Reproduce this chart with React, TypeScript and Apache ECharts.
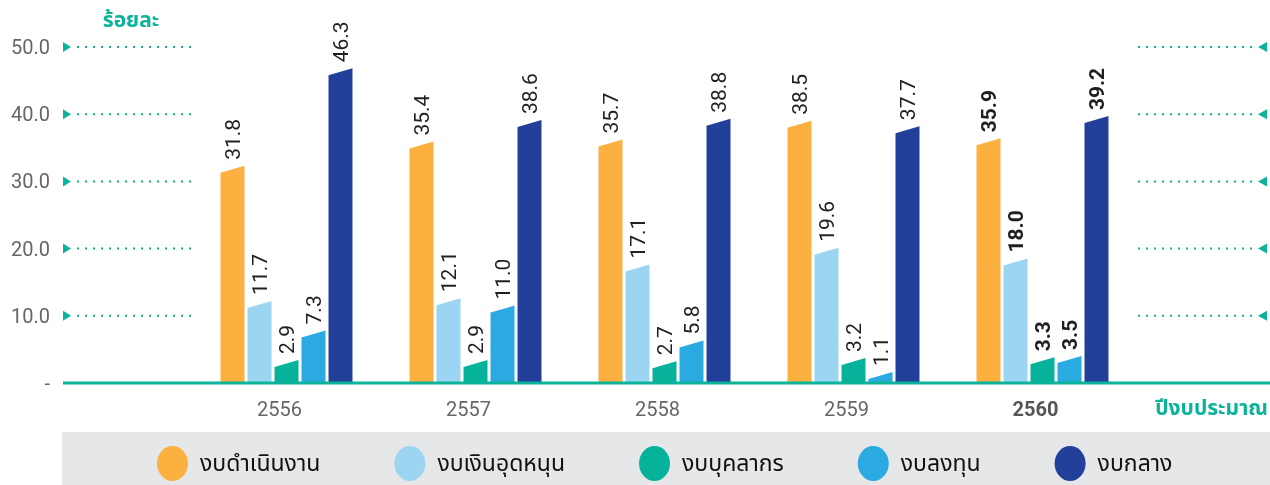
import React, { useEffect, useRef } from 'react';
import * as echarts from 'echarts';

const years = ['2556', '2557', '2558', '2559', '2560'];
const seriesNames = ['งบดำเนินงาน', 'งบเงินอุดหนุน', 'งบบุคลากร', 'งบลงทุน', 'งบกลาง'];
const operating = [31.8, 35.4, 35.7, 38.5, 35.9];
const subsidy = [11.7, 12.1, 17.1, 19.6, 18.0];
const personnel = [2.9, 2.9, 2.7, 3.2, 3.3];
const investment = [7.3, 11.0, 5.8, 1.1, 3.5];
const central = [46.3, 38.6, 38.8, 37.7, 39.2];
const yTicks = [10, 20, 30, 40, 50];
const colors = ['#fbb040', '#9bd5f2', '#07b29b', '#2baae2', '#22409a'];
const yName = 'ร้อยละ';
const xName = 'ปีงบประมาณ';

const TEAL = '#0bb39b';
const NUM_FONT = 'Roboto, "DejaVu Sans", sans-serif';
const THAI_FONT = '"Noto Sans Thai", "Noto Sans", "DejaVu Sans", sans-serif';

export default function App() {
  const ref = useRef<HTMLDivElement>(null);
  useEffect(() => {
    if (!ref.current) return;
    const chart = echarts.init(ref.current, null, { renderer: 'svg' });
    const allValues = [operating, subsidy, personnel, investment, central];
    const BAR_W = 24;
    const PITCH = 27;
    const SLANT = 3.5;

    const barSeries = allValues.map((vals, s) => ({
      type: 'custom',
      name: seriesNames[s],
      itemStyle: { color: colors[s] },
      data: vals.map((v, i) => [i, v]),
      encode: { x: 0, y: 1 },
      z: 2,
      renderItem: (params: any, api: any) => {
        const ci = api.value(0);
        const v = api.value(1);
        const top = api.coord([ci, v]);
        const base = api.coord([ci, 0]);
        const cx = top[0] + (s - 2) * PITCH;
        const l = cx - BAR_W / 2;
        const r = cx + BAR_W / 2;
        return {
          type: 'group',
          children: [
            {
              type: 'polygon',
              shape: {
                points: [
                  [l, base[1]],
                  [r, base[1]],
                  [r, top[1] - SLANT],
                  [l, top[1] + SLANT],
                ],
              },
              style: { fill: colors[s] },
            },
            {
              type: 'text',
              x: cx,
              y: top[1] - SLANT - 6,
              rotation: Math.PI / 2,
              style: {
                text: v.toFixed(1),
                fill: '#231f20',
                fontSize: 21,
                fontFamily: NUM_FONT,
                fontWeight: ci === 4 ? 'bold' : 'normal',
                align: 'left',
                verticalAlign: 'middle',
              },
            },
          ],
        };
      },
    }));

    const option: any = {
      animation: false,
      grid: { left: 192, right: 133, top: 47, bottom: 102 },
      legend: {
        data: seriesNames,
        left: 152,
        top: 441,
        itemWidth: 31,
        itemHeight: 35,
        itemGap: 74,
        icon: 'path://M15.5,0 A15.5,17.5 0 1,1 15.5,35 A15.5,17.5 0 1,1 15.5,0 Z',
        textStyle: { fontSize: 23, color: '#111', fontFamily: THAI_FONT, padding: [0, 0, 0, 7] },
        selectedMode: false,
      },
      xAxis: {
        type: 'category',
        data: years,
        axisLine: { show: false },
        axisTick: { show: false },
        axisLabel: {
          color: '#666',
          fontSize: 20,
          fontFamily: NUM_FONT,
          margin: 16,
          padding: [0, 14, 0, 0],
          formatter: (v: string) => (v === '2560' ? `{b|${v}}` : v),
          rich: { b: { fontWeight: 'bold', color: '#555', fontSize: 20, fontFamily: NUM_FONT } },
        },
      },
      yAxis: {
        type: 'value',
        min: 0,
        max: 50,
        interval: 10,
        axisLine: { show: false },
        axisTick: { show: false },
        splitLine: { show: false },
        axisLabel: {
          color: '#666',
          fontSize: 20,
          fontFamily: NUM_FONT,
          margin: 142,
          formatter: (v: number) => (v === 0 ? '-' : v.toFixed(1)),
        },
      },
      graphic: [
        { type: 'rect', shape: { x: 62, y: 432, width: 1208, height: 53 }, style: { fill: '#e6e7e8' }, z: -1 },
        {
          type: 'text',
          x: 131,
          y: 20,
          style: { text: yName, fill: TEAL, fontSize: 21, fontWeight: 'bold', fontFamily: THAI_FONT, align: 'center', verticalAlign: 'middle' },
        },
        {
          type: 'text',
          x: 1268,
          y: 408,
          style: { text: xName, fill: TEAL, fontSize: 21, fontWeight: 'bold', fontFamily: THAI_FONT, align: 'right', verticalAlign: 'middle' },
        },
      ],
      series: [
        ...barSeries,
        {
          type: 'custom',
          name: 'ticks',
          data: yTicks.map((t) => [0, t]),
          encode: { x: 0, y: 1 },
          silent: true,
          z: 1,
          renderItem: (params: any, api: any) => {
            const y = api.coord([0, api.value(1)])[1];
            return {
              type: 'group',
              children: [
                { type: 'polygon', shape: { points: [[63, y - 5], [71, y], [63, y + 5]] }, style: { fill: TEAL } },
                { type: 'line', shape: { x1: 77, y1: y, x2: 192, y2: y }, style: { stroke: TEAL, lineWidth: 2, lineDash: [2, 6] } },
                { type: 'line', shape: { x1: 1138, y1: y, x2: 1253, y2: y }, style: { stroke: TEAL, lineWidth: 2, lineDash: [2, 6] } },
                { type: 'polygon', shape: { points: [[1267, y - 5], [1258, y], [1267, y + 5]] }, style: { fill: TEAL } },
              ],
            };
          },
        },
        {
          type: 'custom',
          name: 'baseline',
          data: [[0, 0]],
          encode: { x: 0, y: 1 },
          silent: true,
          z: 5,
          renderItem: (params: any, api: any) => {
            const y = api.coord([0, api.value(1)])[1];
            return { type: 'line', shape: { x1: 63, y1: y, x2: 1270, y2: y }, style: { stroke: TEAL, lineWidth: 3 } };
          },
        },
      ],
    };
    chart.setOption(option);
    return () => chart.dispose();
  }, []);
  return <div ref={ref} style={{ position: 'fixed', left: 0, top: 0, width: 1270, height: 485 }} />;
}
